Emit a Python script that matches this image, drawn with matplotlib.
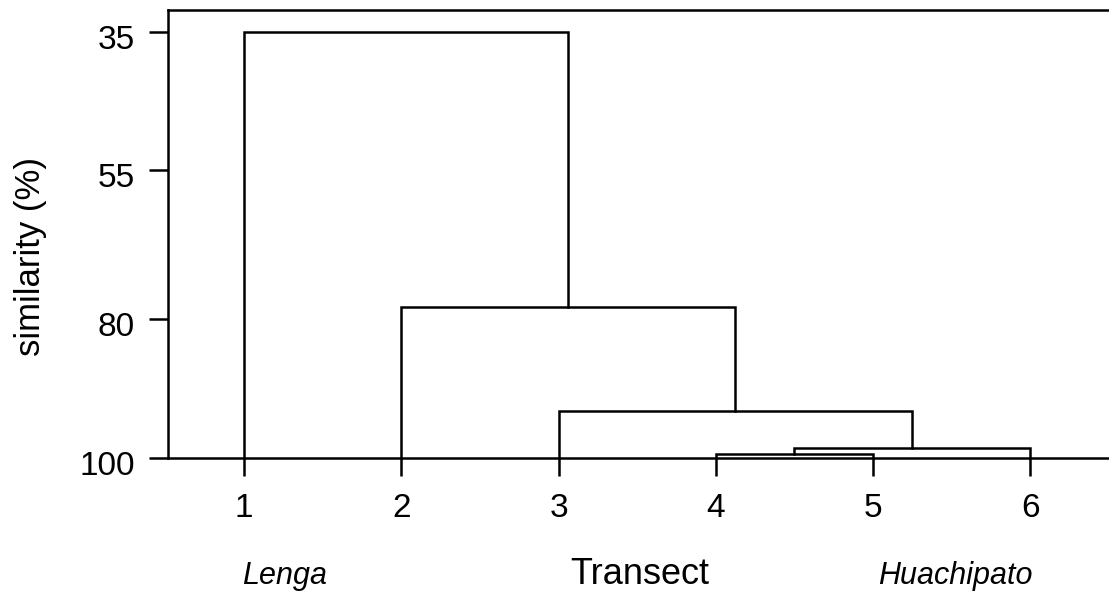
import numpy as np
import matplotlib
matplotlib.use("Agg")
import matplotlib.pyplot as plt
import matplotlib.transforms as mtransforms

plt.rcParams['font.family'] = ['Liberation Sans', 'DejaVu Sans']

# leaves (transects) and merge steps: (left cluster, right cluster, similarity %)
leaves = [1, 2, 3, 4, 5, 6]
merges = [("4", "5", 99.4),
          ("45", "6", 98.6),
          ("3", "456", 93.2),
          ("2", "3456", 78.0),
          ("1", "23456", 35.0)]
y_ticks = [35, 55, 80, 100]

# the printed axis is not evenly spaced between labels -> piecewise scale
knot_sim = [0, 35, 55, 80, 100, 140]
knot_pos = [-219.5, 22, 160, 309, 448, 726]

def fwd(v):
    return np.interp(v, knot_sim, knot_pos)

def inv(p):
    return np.interp(p, knot_pos, knot_sim)

fig = plt.figure(figsize=(11.09, 5.92), dpi=100)
ax = fig.add_axes([168/1109, 134/592, 941/1109, 448/592])
ax.set_yscale('function', functions=(fwd, inv))

# node positions: x = midpoint of children, y = merge height
node_x = {str(l): float(l) for l in leaves}
node_y = {str(l): 100.0 for l in leaves}
for a, b, s in merges:
    xa, xb = node_x[a], node_x[b]
    ax.plot([xa, xa, xb, xb], [node_y[a], s, s, node_y[b]],
            color='black', lw=1.8, solid_joinstyle='miter')
    node_x[a + b] = (xa + xb) / 2
    node_y[a + b] = s

ax.set_xlim(0.517, 6.5)
ax.set_ylim(100, 31.8)
ax.set_yticks(y_ticks)
ax.set_xticks(leaves)
ax.tick_params(axis='y', length=14, width=1.8, pad=10, labelsize=24)
ax.tick_params(axis='x', length=13, width=1.8, pad=12, labelsize=24)
shift = mtransforms.ScaledTranslation(0, -0.05, fig.dpi_scale_trans)
for lbl in ax.get_yticklabels():
    lbl.set_transform(lbl.get_transform() + shift)
for sp in ['left', 'top', 'bottom']:
    ax.spines[sp].set_linewidth(1.8)
ax.spines['right'].set_visible(False)

fig.text(31/1109, 1 - 257/592, 'similarity (%)', fontsize=25, rotation=90,
         ha='center', va='center')
fig.text(640/1109, 1 - 584/592, 'Transect', fontsize=26, ha='center', va='baseline')
fig.text(285/1109, 1 - 584/592, 'Lenga', fontsize=22, style='italic', ha='center', va='baseline')
fig.text(955/1109, 1 - 584/592, 'Huachipato', fontsize=22, style='italic', ha='center', va='baseline')

fig.savefig('out.png', dpi=100)
